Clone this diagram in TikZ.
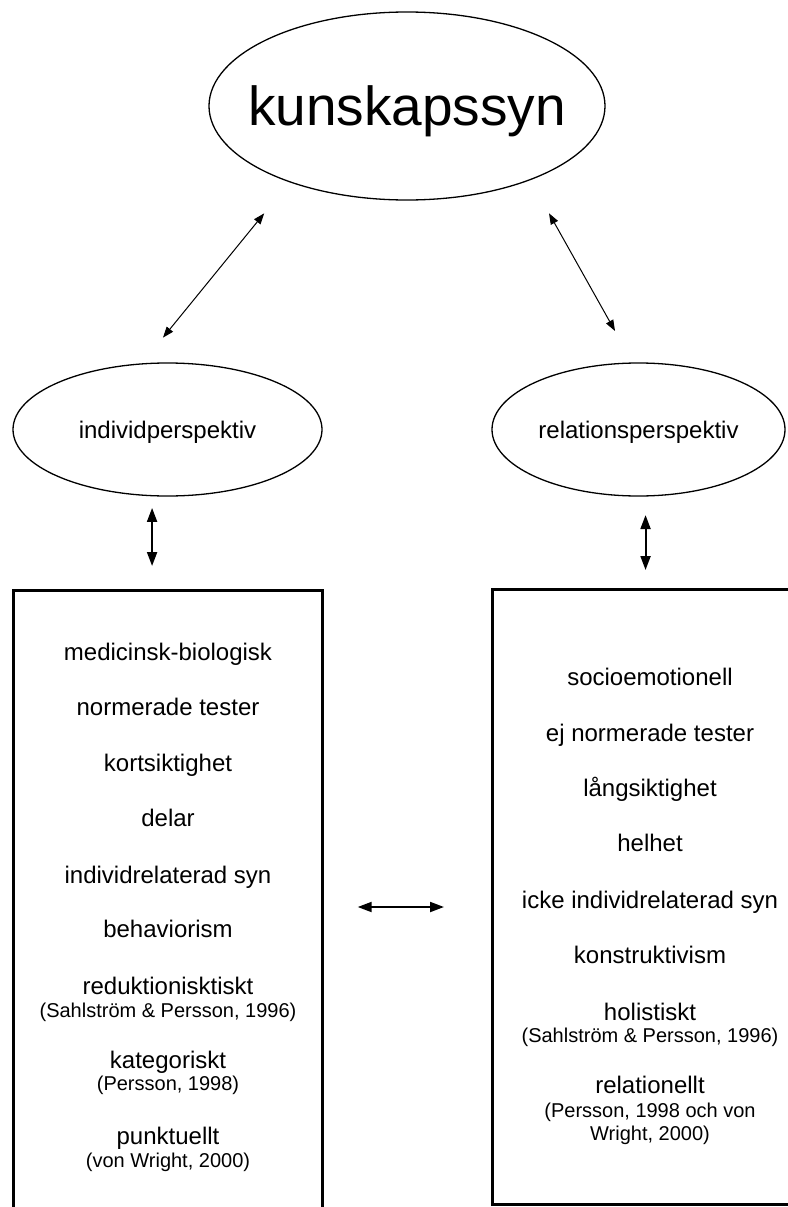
\documentclass[tikz,border=0pt]{standalone}
\usepackage{fontspec}
\setmainfont{Liberation Sans}
\usetikzlibrary{arrows.meta,shapes.geometric}

\begin{document}
\begin{tikzpicture}[
  x=1pt, y=-1pt,
  view/.style={draw, ellipse, line width=1.3pt, inner sep=0pt,
    text depth=0pt, font=\fontsize{24}{28}\selectfont},
  column/.style={draw, rectangle, line width=3pt, inner sep=0pt},
  item/.style={anchor=base, font=\fontsize{24}{28}\selectfont},
  cite/.style={anchor=base, font=\fontsize{20}{24}\selectfont},
  link/.style={<->, >={Triangle[length=11pt,width=8pt]}, line width=1pt},
  dbl/.style={<->, >={Triangle[length=14pt,width=10pt]}, line width=2pt},
]
  \useasboundingbox (0,0) rectangle (787,1207);

  % top level
  \node[view, minimum width=396pt, minimum height=188pt,
    label={[font=\fontsize{55}{60}\selectfont, text depth=0pt]center:kunskapssyn}]
    (kun) at (407,106) {};

  % the two perspectives
  \node[view, minimum width=309pt, minimum height=133pt] (ind) at (167.5,429.5)
    {individperspektiv};
  \node[view, minimum width=293pt, minimum height=133pt] (rel) at (638.5,429.5)
    {relationsperspektiv};

  % the two columns
  \node[column, minimum width=308.4pt, minimum height=634pt] (lbox) at (168,907) {};
  \node[column, minimum width=307.5pt, minimum height=614.5pt] (rbox) at (646.25,896.75) {};

  \draw[link, shorten <=40pt, shorten >=33pt] (kun.213) -- (ind.111);
  \draw[link, shorten <=38pt, shorten >=36pt] (kun.329) -- (rel.95);
  \draw[dbl, shorten <=11.6pt, shorten >=22.5pt] (ind.257) -- (ind.257 |- lbox.north);
  \draw[dbl, shorten <=18.5pt, shorten >=18pt] (rel.276) -- (rel.276 |- rbox.north);
  \draw[dbl, shorten <=34pt, shorten >=47pt] (lbox.east) -- (lbox.east -| rbox.west);

  % left column
  \node[item] (l1) at (168,660) {medicinsk-biologisk};
  \node[item] (l2) at (168,715) {normerade tester};
  \node[item] (l3) at (168,771) {kortsiktighet};
  \node[item] (l4) at (168,826) {delar};
  \node[item] (l5) at (168,883) {individrelaterad syn};
  \node[item] (l6) at (168,937) {behaviorism};
  \node[item] (l7) at (168,994) {reduktionisktiskt};
  \node[cite] (l7c) at (168,1017) {(Sahlström \& Persson, 1996)};
  \node[item] (l8) at (168,1068) {kategoriskt};
  \node[cite] (l8c) at (168,1090) {(Persson, 1998)};
  \node[item] (l9) at (168,1144) {punktuellt};
  \node[cite] (l9c) at (168,1167) {(von Wright, 2000)};

  % right column
  \node[item] (r1) at (650,685) {socioemotionell};
  \node[item] (r2) at (650,741) {ej normerade tester};
  \node[item] (r3) at (650,796) {långsiktighet};
  \node[item] (r4) at (650,851) {helhet};
  \node[item] (r5) at (650,908) {icke individrelaterad syn};
  \node[item] (r6) at (650,963) {konstruktivism};
  \node[item] (r7) at (650,1020) {holistiskt};
  \node[cite] (r7c) at (650,1042) {(Sahlström \& Persson, 1996)};
  \node[item] (r8) at (650,1093) {relationellt};
  \node[cite] (r8c) at (650,1117) {(Persson, 1998 och von};
  \node[cite] (r8d) at (650,1140) {Wright, 2000)};
\end{tikzpicture}
\end{document}
